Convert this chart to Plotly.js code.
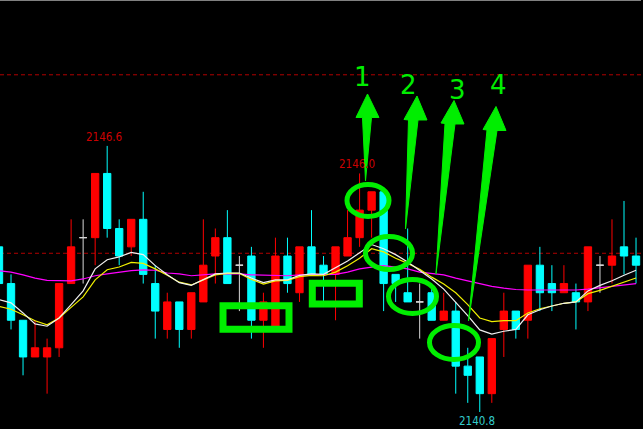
<!DOCTYPE html>
<html><head><meta charset="utf-8">
<script src="https://cdn.plot.ly/plotly-3.0.1.min.js"></script>
<style>html,body{margin:0;padding:0;background:#000;overflow:hidden}#chart{width:643px;height:429px}</style>
</head><body><div id="chart"></div>
<script>
// ---- data ----
const barIndex = [0,1,2,3,4,5,6,7,8,9,10,11,12,13,14,15,16,17,18,19,20,21,22,23,24,25,26,27,28,29,30,31,32,33,34,35,36,37,38,39,40,41,42,43,44,45,46,47,48,49,50,51,52,53];
const openP  = [2144.4,2143.6,2142.8,2142.0,2142.0,2142.2,2143.6,2144.6,2144.6,2146.0,2144.8,2144.4,2145.0,2143.6,2142.6,2143.2,2142.6,2143.2,2144.2,2144.6,2144.0,2144.2,2142.8,2142.6,2144.2,2143.4,2144.4,2144.0,2143.8,2144.2,2144.6,2145.2,2145.6,2143.8,2143.4,2143.2,2143.4,2142.8,2143.0,2141.8,2142.0,2141.2,2142.6,2143.0,2142.8,2144.0,2143.6,2143.4,2143.4,2143.2,2144.0,2144.0,2144.4,2144.2];
const highP  = [2144.4,2143.8,2142.8,2142.8,2142.4,2143.6,2145.0,2145.0,2146.0,2146.6,2145.0,2145.0,2145.6,2144.0,2143.4,2143.2,2143.4,2145.0,2144.8,2145.2,2144.2,2144.4,2143.4,2144.6,2144.6,2144.4,2145.2,2144.2,2144.4,2145.2,2146.0,2145.6,2145.6,2143.8,2144.8,2143.6,2143.6,2143.4,2143.2,2142.2,2142.0,2142.4,2143.4,2143.0,2144.0,2144.4,2144.0,2144.0,2143.6,2144.4,2144.2,2145.0,2145.4,2144.6];
const lowP   = [2143.6,2142.6,2141.6,2142.0,2141.2,2142.0,2143.6,2143.6,2144.0,2144.6,2144.0,2144.2,2143.6,2142.4,2142.4,2142.2,2142.4,2143.2,2143.6,2143.6,2143.0,2142.4,2142.2,2142.6,2143.4,2143.2,2143.8,2143.2,2142.8,2144.2,2144.4,2144.6,2143.0,2143.2,2143.2,2142.4,2142.8,2142.8,2141.2,2141.0,2140.8,2141.0,2142.0,2142.4,2142.4,2143.0,2143.0,2143.4,2142.6,2143.0,2143.4,2143.6,2143.8,2143.6];
const closeP = [2143.6,2142.8,2142.0,2142.2,2142.2,2143.6,2144.4,2144.6,2146.0,2144.8,2144.2,2145.0,2143.8,2143.0,2143.2,2142.6,2143.4,2144.0,2144.6,2143.6,2144.0,2142.8,2143.2,2144.2,2143.6,2144.4,2143.8,2143.8,2144.4,2144.6,2145.2,2145.6,2143.6,2143.6,2143.2,2143.2,2142.8,2143.0,2141.8,2141.6,2141.2,2142.4,2143.0,2142.6,2144.0,2143.4,2143.4,2143.6,2143.2,2144.4,2144.0,2144.2,2144.2,2144.0];
const maWhite   = [2143.25,2143.18,2142.96,2142.72,2142.67,2142.85,2143.14,2143.44,2143.92,2144.12,2144.18,2144.28,2144.23,2143.99,2143.79,2143.62,2143.56,2143.68,2143.81,2143.83,2143.83,2143.72,2143.62,2143.68,2143.68,2143.78,2143.81,2143.80,2143.94,2144.09,2144.27,2144.45,2144.36,2144.23,2144.07,2143.88,2143.70,2143.48,2143.20,2142.90,2142.59,2142.50,2142.56,2142.60,2142.92,2143.03,2143.11,2143.17,2143.20,2143.44,2143.56,2143.66,2143.78,2143.89];
const maYellow  = [2143.10,2143.04,2142.92,2142.79,2142.70,2142.85,2143.08,2143.31,2143.68,2143.90,2143.96,2144.06,2144.04,2143.92,2143.78,2143.63,2143.57,2143.68,2143.79,2143.82,2143.82,2143.69,2143.59,2143.66,2143.67,2143.75,2143.78,2143.77,2143.85,2143.99,2144.15,2144.36,2144.29,2144.15,2144.04,2143.91,2143.74,2143.59,2143.40,2143.14,2142.85,2142.77,2142.79,2142.79,2142.96,2143.05,2143.11,2143.17,2143.20,2143.38,2143.45,2143.54,2143.62,2143.72];
const maMagenta = [2143.88,2143.85,2143.79,2143.72,2143.67,2143.66,2143.66,2143.70,2143.77,2143.81,2143.85,2143.88,2143.90,2143.89,2143.83,2143.81,2143.77,2143.79,2143.81,2143.81,2143.81,2143.79,2143.78,2143.77,2143.77,2143.79,2143.79,2143.79,2143.80,2143.85,2143.92,2143.96,2143.99,2143.96,2143.92,2143.85,2143.82,2143.79,2143.72,2143.66,2143.59,2143.54,2143.50,2143.47,2143.46,2143.46,2143.46,2143.46,2143.46,2143.48,2143.51,2143.55,2143.58,2143.60];
const refLevels = [2144.26, 2148.15];
const highLabelBars = [9, 30];
const lowLabelBars = [40];
const markNumbers = ['1','2','3','4'];

// ---- drawing ----
const W = 643, H = 429;
const px = x => x / W, py = y => 1 - y / H;
const GREEN = '#00ee00';
const pathOf = pts => 'M' + pts.map(p => px(p[0]).toFixed(5) + ',' + py(p[1]).toFixed(5)).join('L') + 'Z';

// choose a narrow font for the price labels (target: "2146.6" about 36px wide)
const cv = document.createElement('canvas').getContext('2d');
function textW(fam, size, s) { cv.font = size + 'px ' + fam; return cv.measureText(s).width; }
function hasFont(fam) {
  return ['monospace', 'serif'].some(b => Math.abs(textW("'" + fam + "'," + b, 40, '2146.6 abc') - textW(b, 40, '2146.6 abc')) > 0.5);
}
let labFam = 'Liberation Sans';
for (const f of ['Liberation Sans Narrow', 'DejaVu Sans Condensed', 'Liberation Sans']) { if (hasFont(f)) { labFam = f; break; } }
let labSize = Math.round(36 / textW("'" + labFam + "',sans-serif", 100, '2146.6') * 100 * 2) / 2;
labSize = Math.min(14.5, Math.max(11, labSize));
const labFont = {family: labFam + ', sans-serif', size: labSize};

const isDoji = i => openP[i] === closeP[i];
const normal = i => !isDoji(i);
const pick = (arr, keep) => barIndex.filter(keep).map(i => arr[i]);

const traces = [
  {type:'candlestick', x: pick(barIndex, normal), open: pick(openP, normal), high: pick(highP, normal), low: pick(lowP, normal), close: pick(closeP, normal),
   increasing:{line:{color:'#ff0000', width:1}, fillcolor:'#ff0000'},
   decreasing:{line:{color:'#00ffff', width:1}, fillcolor:'#00ffff'}, whiskerwidth:0, hoverinfo:'skip'},
  {type:'candlestick', x: pick(barIndex, isDoji), open: pick(openP, isDoji), high: pick(highP, isDoji), low: pick(lowP, isDoji), close: pick(closeP, isDoji),
   increasing:{line:{color:'#d8d8d8', width:1}, fillcolor:'#d8d8d8'},
   decreasing:{line:{color:'#d8d8d8', width:1}, fillcolor:'#d8d8d8'}, whiskerwidth:0, hoverinfo:'skip'},
  {type:'scatter', mode:'lines', x: barIndex, y: maMagenta, line:{color:'#ff00ff', width:1.2}, hoverinfo:'skip'},
  {type:'scatter', mode:'lines', x: barIndex, y: maYellow, line:{color:'#f0f000', width:1.2}, hoverinfo:'skip'},
  {type:'scatter', mode:'lines', x: barIndex, y: maWhite, line:{color:'#f0f0f0', width:1.2}, hoverinfo:'skip'}
];

const shapes = [];
refLevels.forEach(v => shapes.push({type:'line', xref:'paper', x0:0, x1:1, yref:'y', y0:v, y1:v, layer:'below',
  line:{color:'#b00000', width:1, dash:'4px,3px'}}));
// border
shapes.push({type:'line', xref:'paper', yref:'paper', x0:0, x1:px(641), y0:py(0.5), y1:py(0.5), line:{color:'#808080', width:1}});
shapes.push({type:'line', xref:'paper', yref:'paper', x0:px(640.5), x1:px(640.5), y0:py(0), y1:1, line:{color:'#808080', width:1}});
// ellipses
[[347,184.5,389,216.5],[365.5,236.5,412.5,269.5],[388.5,279.5,436.5,313.5],[429.5,325.5,478.5,359.5]].forEach(e =>
  shapes.push({type:'circle', xref:'paper', yref:'paper', x0:px(e[0]), x1:px(e[2]), y0:py(e[3]), y1:py(e[1]), line:{color:GREEN, width:5}}));
// rectangles
[[223,305.8,289,329.3],[312.3,283.3,359.3,304]].forEach(r =>
  shapes.push({type:'rect', xref:'paper', yref:'paper', x0:px(r[0]), x1:px(r[2]), y0:py(r[3]), y1:py(r[1]), line:{color:GREEN, width:7}}));
// arrows
[
  [[367.5,94],[379,117.5],[371.5,117.5],[365.5,181],[362.5,117.5],[356,117.5]],
  [[417,96],[427,120],[418,120],[405.5,229],[408.5,120],[404,119.5]],
  [[454,100.5],[464,124],[455,124],[436,274],[445,123.5],[441,123]],
  [[496,106.5],[506,130.5],[497,130.5],[468.5,321],[487,130],[483,129.5]]
].forEach(a => shapes.push({type:'path', xref:'paper', yref:'paper', path:pathOf(a), fillcolor:GREEN, line:{color:GREEN, width:1}}));

const annotations = [];
highLabelBars.forEach(i => annotations.push({xref:'x', yref:'y', x:i, y:highP[i], text:highP[i].toFixed(1), showarrow:false,
  xanchor:'center', yanchor:'bottom', xshift:-3, yshift:0, font:Object.assign({color:'#cc0000'}, labFont)}));
lowLabelBars.forEach(i => annotations.push({xref:'x', yref:'y', x:i, y:lowP[i], text:lowP[i].toFixed(1), showarrow:false,
  xanchor:'center', yanchor:'top', xshift:-3, yshift:0, font:Object.assign({color:'#33cccc'}, labFont)}));
const numPos = [[362,76.5],[408.3,85.5],[457,89.5],[498.7,85]];
markNumbers.forEach((t, k) => annotations.push({xref:'paper', yref:'paper', x:px(numPos[k][0]), y:py(numPos[k][1]), text:t, showarrow:false,
  xanchor:'center', yanchor:'middle', font:{family:'DejaVu Sans, sans-serif', size:26, color:GREEN}}));

const layout = {
  width: W, height: H, margin:{l:0, r:0, t:0, b:0},
  paper_bgcolor:'#000', plot_bgcolor:'#000', showlegend:false, hovermode:false, dragmode:false,
  boxgap:0.39, boxgroupgap:0,
  xaxis:{range:[0.083, 53.58], visible:false, showgrid:false, zeroline:false, rangeslider:{visible:false}, fixedrange:true},
  yaxis:{range:[2140.43, 2149.78], visible:false, showgrid:false, zeroline:false, fixedrange:true},
  shapes: shapes, annotations: annotations
};
Plotly.newPlot('chart', traces, layout, {displayModeBar:false, staticPlot:true});
</script></body></html>
